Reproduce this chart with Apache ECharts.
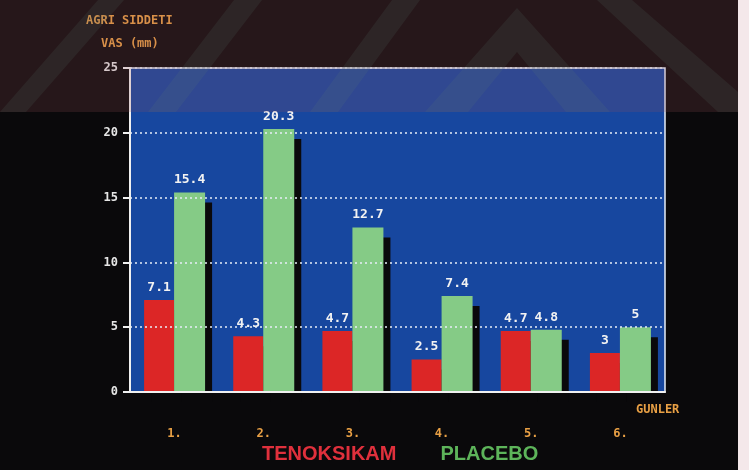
<!DOCTYPE html>
<html>
<head>
<meta charset="utf-8">
<script src="https://cdn.jsdelivr.net/npm/echarts@6/dist/echarts.min.js"></script>
<style>
  html, body { margin: 0; padding: 0; background: #0a090b; }
  #main { width: 749px; height: 470px; }
</style>
</head>
<body>
<div id="main"></div>
<script>
// gunler (days) and VAS values
var days = ['1.', '2.', '3.', '4.', '5.', '6.'];
var tenoksikam = [7.1, 4.3, 4.7, 2.5, 4.7, 3];
var placebo = [15.4, 20.3, 12.7, 7.4, 4.8, 5];

var mono = 'DejaVu Sans Mono';
var orange = '#e9a045';
var bg = '#0a090b';

// faint diagonal bands of the photo's watermark (top strip only)
var stripe = 'rgba(90,125,115,0.14)';
function band(points) {
    return {
        type: 'polygon', z: 100, silent: true,
        shape: { points: points },
        style: { fill: stripe }
    };
}

var myChart = echarts.init(document.getElementById('main'));

myChart.setOption({
    backgroundColor: bg,
    title: [
        {
            text: 'AGRI SIDDETI',
            left: 81, top: 10,
            textStyle: { color: orange, fontFamily: mono, fontSize: 12, fontWeight: 'bold' }
        },
        {
            text: 'VAS (mm)',
            left: 96, top: 33,
            textStyle: { color: orange, fontFamily: mono, fontSize: 12, fontWeight: 'bold' }
        },
        {
            text: 'GUNLER',
            left: 631, top: 399,
            textStyle: { color: orange, fontFamily: mono, fontSize: 12, fontWeight: 'bold' }
        }
    ],
    legend: {
        left: 252, top: 439,
        itemWidth: 0, itemHeight: 0,
        itemGap: 39,
        selectedMode: false,
        textStyle: { fontFamily: 'Liberation Sans', fontSize: 20, fontWeight: 'bold' },
        data: [
            { name: 'TENOKSIKAM', textStyle: { color: '#e0303c' } },
            { name: 'PLACEBO', textStyle: { color: '#5db45a' } }
        ]
    },
    grid: {
        left: 130, right: 84, top: 68, bottom: 78,
        show: true,
        backgroundColor: '#17479f',
        borderColor: '#e8eef8',
        borderWidth: 1.5
    },
    xAxis: {
        type: 'category',
        data: days,
        z: 5,
        axisLine: { lineStyle: { color: '#f0f0f0', width: 2 } },
        axisTick: { alignWithLabel: true, length: 4, lineStyle: { color: '#f0f0f0' } },
        axisLabel: {
            color: orange, fontFamily: mono, fontSize: 12, fontWeight: 'bold',
            margin: 36
        }
    },
    yAxis: {
        type: 'value',
        min: 0, max: 25, interval: 5,
        z: 5,
        axisLine: { show: true, lineStyle: { color: '#f0f0f0', width: 2 } },
        axisTick: { show: true, length: 7, lineStyle: { color: '#f0f0f0', width: 2 } },
        axisLabel: {
            color: '#e6e6e6', fontFamily: mono, fontSize: 12, fontWeight: 'bold',
            margin: 12
        },
        splitLine: { lineStyle: { color: '#e8eef8', width: 1.5, type: [2, 3] } }
    },
    series: [
        {
            name: 'TENOKSIKAM',
            type: 'bar',
            data: tenoksikam,
            barWidth: 30,
            barGap: 0,
            itemStyle: {
                color: '#dc2626',
                shadowColor: bg, shadowOffsetX: 7, shadowOffsetY: 10, shadowBlur: 0
            },
            label: {
                show: true, position: 'top', distance: 6,
                color: '#f2f2f2', fontFamily: mono, fontSize: 13, fontWeight: 'bold'
            }
        },
        {
            name: 'PLACEBO',
            type: 'bar',
            data: placebo,
            barWidth: 31,
            itemStyle: {
                color: '#85cb86',
                shadowColor: bg, shadowOffsetX: 7, shadowOffsetY: 10, shadowBlur: 0
            },
            label: {
                show: true, position: 'top', distance: 6,
                color: '#f2f2f2', fontFamily: mono, fontSize: 13, fontWeight: 'bold'
            }
        }
    ],
    graphic: [
        {
            // reddish haze over the top of the photo
            type: 'rect', z: 100, silent: true,
            shape: { x: 0, y: 0, width: 749, height: 112 },
            style: { fill: 'rgba(150,80,90,0.2)' }
        },
        band([[0, 112], [26, 112], [124, 0], [98, 0]]),
        band([[148, 112], [176, 112], [262, 0], [234, 0]]),
        band([[310, 112], [338, 112], [420, 0], [392, 0]]),
        band([[425, 112], [468, 112], [517, 52], [566, 112], [610, 112], [517, 8]]),
        band([[597, 0], [632, 0], [738, 92], [738, 112], [718, 112]]),
        {
            type: 'rect', z: 100, silent: true,
            shape: { x: 738, y: 0, width: 11, height: 470 },
            style: { fill: '#f4e8ea' }
        }
    ]
});
</script>
</body>
</html>
